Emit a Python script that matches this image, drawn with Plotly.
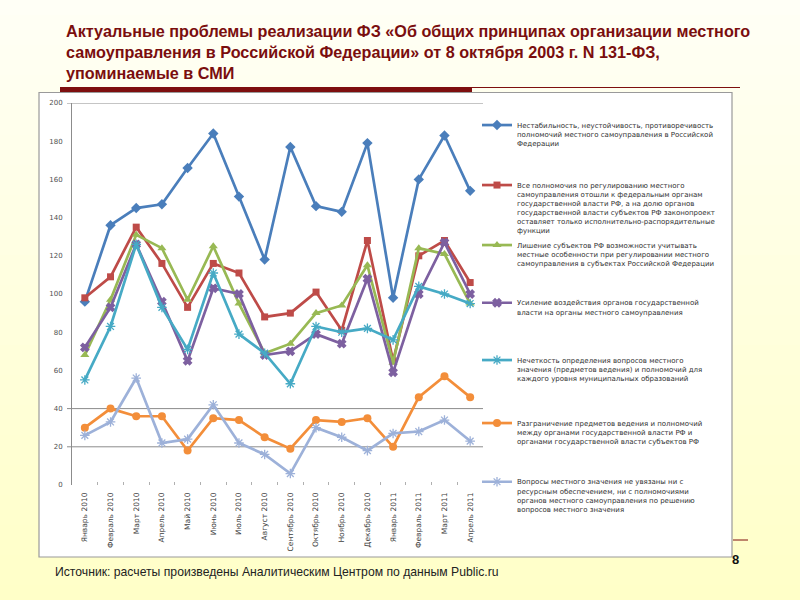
import plotly.graph_objects as go

months = ["Январь 2010", "Февраль 2010", "Март 2010", "Апрель 2010", "Май 2010", "Июнь 2010",
          "Июль 2010", "Август 2010", "Сентябрь 2010", "Октябрь 2010", "Ноябрь 2010",
          "Декабрь 2010", "Январь 2011", "Февраль 2011", "Март 2011", "Апрель 2011"]

s_instability = [96, 136, 145, 147, 166, 184, 151, 118, 177, 146, 143, 179, 98, 160, 183, 154]
s_federal = [98, 109, 135, 116, 93, 116, 111, 88, 90, 101, 81, 128, 65, 120, 128, 106]
s_regional = [68, 97, 131, 124, 97, 125, 95, 69, 74, 90, 94, 115, 64, 124, 121, 95]
s_influence = [72, 93, 126, 96, 65, 103, 100, 68, 70, 79, 74, 108, 59, 100, 127, 100]
s_unclear = [55, 83, 126, 93, 71, 111, 79, 69, 53, 83, 80, 82, 76, 104, 100, 95]
s_division = [30, 40, 36, 36, 18, 35, 34, 25, 19, 34, 33, 35, 20, 46, 57, 46]
s_resources = [26, 33, 56, 22, 24, 42, 22, 16, 6, 30, 25, 18, 27, 28, 34, 23]

names = [
    "Нестабильность, неустойчивость, противоречивость<br>полномочий местного самоуправления в Российской<br>Федерации",
    "Все полномочия по регулированию местного<br>самоуправления отошли к федеральным органам<br>государственной власти РФ, а на долю органов<br>государственной власти субъектов РФ законопроект<br>оставляет только исполнительно-распорядительные<br>функции",
    "Лишение субъектов РФ возможности учитывать<br>местные особенности при регулировании местного<br>самоуправления в субъектах Российской Федерации",
    "Усиление воздействия органов государственной<br>власти на органы местного самоуправления",
    "Нечеткость определения вопросов местного<br>значения (предметов ведения) и полномочий для<br>каждого уровня муниципальных образований",
    "Разграничение предметов ведения и полномочий<br>между органами государственной власти РФ и<br>органами государственной власти субъектов РФ",
    "Вопросы местного значения не увязаны ни с<br>ресурсным обеспечением, ни с полномочиями<br>органов местного самоуправления по решению<br>вопросов местного значения",
]
series = [s_instability, s_federal, s_regional, s_influence, s_unclear, s_division, s_resources]
colors = ["#4A7EBB", "#BE4B48", "#98B954", "#7D60A0", "#46AAC5", "#F38E3A", "#9DB1D9"]
symbols = ["diamond", "square", "triangle-up", "x", "asterisk-open", "circle", "asterisk-open"]
msizes = [8, 7, 8, 7, 8, 8, 8]

# pixel helpers (layout only)
L, R, T, B = 72, 483, 103, 485
def px(x):
    return (x - L) / (R - L)
def py(y):
    return (B - y) / (B - T)

fig = go.Figure()
legend_ids = ["legend", "legend2", "legend3", "legend4", "legend5", "legend6", "legend7"]
for i, (nm, vals) in enumerate(zip(names, series)):
    mk = dict(symbol=symbols[i], size=msizes[i], color=colors[i])
    if symbols[i].endswith("open") or symbols[i] == "x":
        mk["line"] = dict(color=colors[i], width=1.3)
    fig.add_trace(go.Scatter(
        x=months, y=vals, name=nm, mode="lines+markers",
        line=dict(color=colors[i], width=2.7),
        marker=mk, legend=legend_ids[i],
    ))

# background gradient bands
shapes = []
nb = 40
for k in range(nb):
    t = k / (nb - 1)
    b = int(246 - 46 * t)
    shapes.append(dict(type="rect", xref="paper", yref="paper", layer="below",
                       x0=px(-5), x1=px(805), y0=py(600 * (k + 1) / nb + 1), y1=py(600 * k / nb),
                       fillcolor=f"rgb(255,255,{b})", line=dict(width=0)))
# white chart box
shapes.append(dict(type="rect", xref="paper", yref="paper", layer="below",
                   x0=px(39), x1=px(732), y0=py(557), y1=py(92.5),
                   fillcolor="white", line=dict(color="#9a9a9a", width=1.2)))
# title underline
shapes.append(dict(type="rect", xref="paper", yref="paper", layer="above",
                   x0=px(60), x1=px(472), y0=py(92), y1=py(87),
                   fillcolor="#7E0F0F", line=dict(width=0)))
shapes.append(dict(type="line", xref="paper", yref="paper", layer="above",
                   x0=px(472), x1=px(740), y0=py(87.5), y1=py(87.5),
                   line=dict(color="#7E0F0F", width=1)))
shapes.append(dict(type="line", xref="paper", yref="paper", layer="above",
                   x0=px(733), x1=px(748), y0=py(540), y1=py(540),
                   line=dict(color="#7E0F0F", width=1)))
# gridlines
for gv in [200, 40, 20]:
    shapes.append(dict(type="line", xref="paper", yref="y", layer="below",
                       x0=px(67), x1=1, y0=gv, y1=gv,
                       line=dict(color="#8c8c8c", width=1)))

leg_tops = [125, 185, 245, 302.7, 360, 423, 481.7]
legend_font = dict(family="DejaVu Sans", size=7, color="#303030")
layout_legends = {}
for lid, top in zip(legend_ids, leg_tops):
    layout_legends[lid] = dict(
        x=px(477), y=py(top - 11), xanchor="left", yanchor="top",
        bgcolor="rgba(0,0,0,0)", borderwidth=0, font=legend_font,
        valign="top", itemwidth=30, tracegroupgap=0,
    )

annotations = [
    dict(text="<b>Актуальные проблемы реализации ФЗ «Об общих принципах организации местного<br>"
              "самоуправления в Российской Федерации» от 8 октября 2003 г. N 131-ФЗ,<br>"
              "упоминаемые в СМИ</b>",
         xref="paper", yref="paper", x=px(64), y=py(20), xanchor="left", yanchor="top",
         align="left", showarrow=False,
         font=dict(family="Liberation Sans", size=16.2, color="#7A0E0E")),
    dict(text="Источник: расчеты произведены Аналитическим Центром по данным Public.ru",
         xref="paper", yref="paper", x=px(53), y=py(572), xanchor="left", yanchor="middle",
         showarrow=False,
         font=dict(family="Liberation Sans", size=12.2, color="#222222")),
    dict(text="<b>8</b>", xref="paper", yref="paper", x=px(735), y=py(559), xanchor="center",
         yanchor="middle", showarrow=False,
         font=dict(family="Liberation Sans", size=13, color="#111111")),
]

fig.update_layout(
    width=800, height=600,
    margin=dict(l=L, r=800 - R, t=T, b=600 - B, autoexpand=False),
    paper_bgcolor="#FFFFE6", plot_bgcolor="rgba(0,0,0,0)",
    shapes=shapes, annotations=annotations, showlegend=True,
    xaxis=dict(type="category", range=[-0.5, 15.5], tickangle=-90, showgrid=False,
               showline=False, zeroline=False, ticks="inside", ticklen=3, tickcolor="#b0b0b0",
               tickson="boundaries", ticklabelstandoff=5,
               tickfont=dict(family="DejaVu Sans", size=7.5, color="#404040")),
    yaxis=dict(range=[0, 200], dtick=20, showgrid=False, zeroline=False, showline=True,
               linecolor="#8c8c8c", linewidth=1, ticks="", ticklabelstandoff=7,
               tickfont=dict(family="DejaVu Sans", size=7, color="#505050")),
    **layout_legends,
)

fig.write_html("out.html", config={"displayModeBar": False},
               post_script="document.body.style.margin='0';document.body.style.padding='0';")
